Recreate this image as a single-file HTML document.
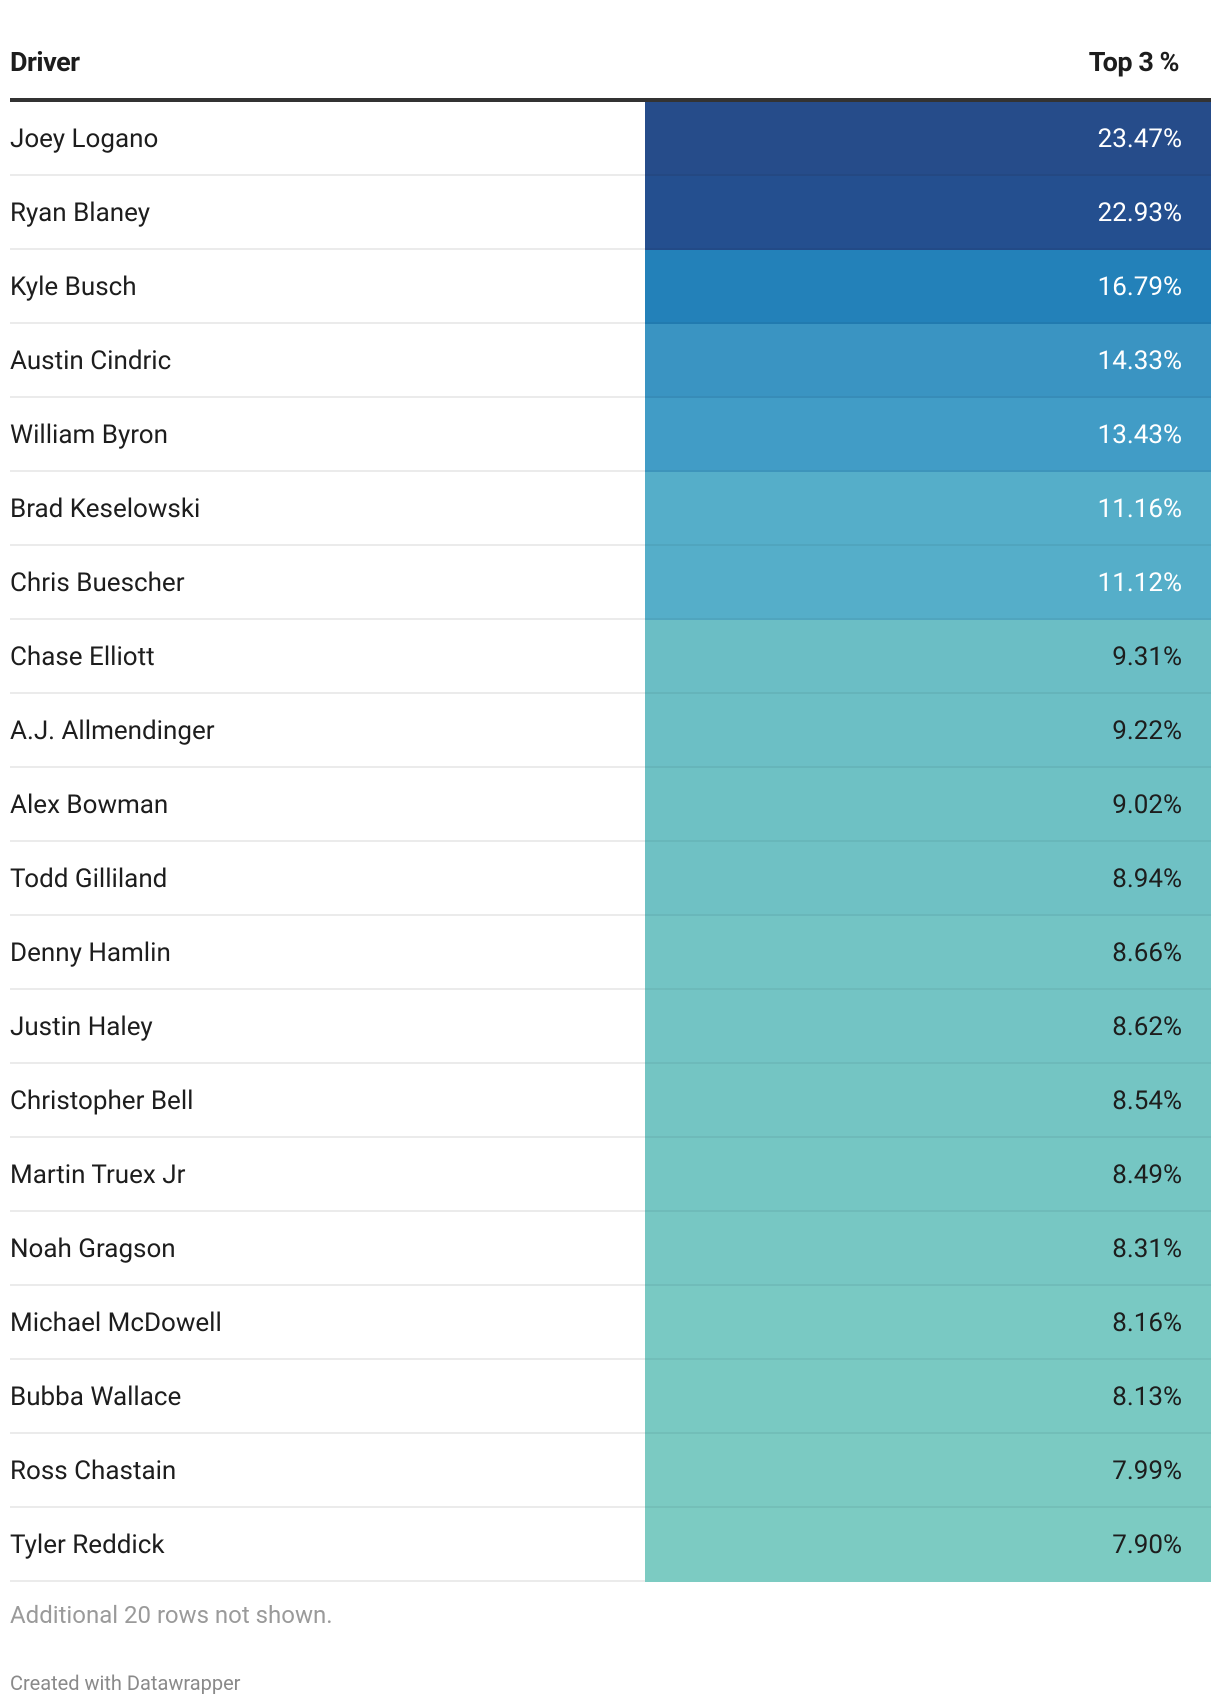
<!DOCTYPE html>
<html><head><meta charset="utf-8">
<style>
html,body{margin:0;padding:0;background:#fff;}
body{width:1220px;height:1706px;position:relative;font-family:"Roboto","Liberation Sans",sans-serif;color:#1d1d1d;overflow:hidden;}
.hdr{position:absolute;top:46px;font-weight:bold;font-size:27px;letter-spacing:-0.5px;}
.line{position:absolute;left:10px;width:1201px;top:98px;height:4px;background:#333;}
.row{position:absolute;left:10px;width:1201px;height:74px;}
.row .sep{position:absolute;left:0;right:0;bottom:0;height:2px;background:#ebebeb;}
.row .name{position:absolute;left:0;top:0;line-height:74px;font-size:26px;}
.row .cell{position:absolute;left:635px;right:0;top:0;bottom:0;}
.row .cell .sep2{position:absolute;left:0;right:0;bottom:0;height:2px;background:rgba(0,0,0,0.05);}
.row .val{position:absolute;right:29px;top:0;line-height:74px;font-size:26px;}
.note{position:absolute;left:10px;top:1601px;font-size:24px;color:#9a9a9a;}
.credit{position:absolute;left:10px;top:1671px;font-size:20px;color:#8a8a8a;}
</style></head>
<body>
<div class="hdr" style="left:10px">Driver</div>
<div class="hdr" style="right:41px">Top 3 %</div>
<div class="line"></div>
<div id="rows"></div>
<div class="note">Additional 20 rows not shown.</div>
<div class="credit">Created with Datawrapper</div>
<script>
const drivers = ["Joey Logano","Ryan Blaney","Kyle Busch","Austin Cindric","William Byron","Brad Keselowski","Chris Buescher","Chase Elliott","A.J. Allmendinger","Alex Bowman","Todd Gilliland","Denny Hamlin","Justin Haley","Christopher Bell","Martin Truex Jr","Noah Gragson","Michael McDowell","Bubba Wallace","Ross Chastain","Tyler Reddick"];
const values = [23.47,22.93,16.79,14.33,13.43,11.16,11.12,9.31,9.22,9.02,8.94,8.66,8.62,8.54,8.49,8.31,8.16,8.13,7.99,7.90];
function colorFor(v){
  if(v>=20) return v>23 ? "#264c8a" : "#244f8f";
  if(v>=15) return "#2381b9";
  if(v>=14) return "#3a94c2";
  if(v>=12) return "#419cc6";
  if(v>=10) return "#55aec9";
  // light teal gradient 9.31 -> 7.90
  const t = Math.max(0, Math.min(1, (9.31 - v) / (9.31 - 7.90)));
  const a=[0x6b,0xbe,0xc5], b=[0x7c,0xcb,0xc2];
  return "rgb("+a.map((c,i)=>Math.round(c+(b[i]-c)*t)).join(",")+")";
}
const container = document.getElementById('rows');
const top0 = 102, rowH = 74;
drivers.forEach((d,i)=>{
  const v = values[i];
  const row = document.createElement('div');
  row.className='row';
  
  
  row.style.top = (top0 + i*rowH) + 'px';
  const sep = document.createElement('div'); sep.className='sep';
  
  
  row.appendChild(sep);
  const name = document.createElement('div'); name.className='name'; name.textContent = d;
  
  
  row.appendChild(name);
  const cell = document.createElement('div'); cell.className='cell';
  
  
  cell.style.background = colorFor(v);
  if(i < drivers.length-1){ const s2=document.createElement('div'); s2.className='sep2';
    
    
    cell.appendChild(s2); }
  const val = document.createElement('div'); val.className='val';
  
  
  val.textContent = v.toFixed(2) + '%';
  val.style.color = v >= 10 ? '#ffffff' : '#1d1d1d';
  cell.appendChild(val);
  row.appendChild(cell);
  container.appendChild(row);
});
</script>
</body></html>
